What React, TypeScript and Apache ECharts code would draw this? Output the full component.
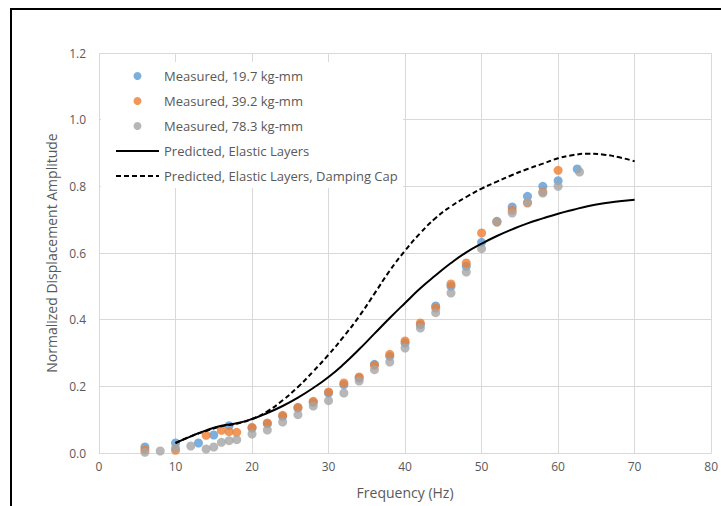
import React, { useEffect, useRef } from "react";
import * as echarts from "echarts";

const seriesNames = [
  "Measured, 19.7 kg-mm",
  "Measured, 39.2 kg-mm",
  "Measured, 78.3 kg-mm",
  "Predicted, Elastic Layers",
  "Predicted, Elastic Layers, Damping Cap",
];

const measured197: [number, number][] = [
  [6, 0.018], [10, 0.03], [13, 0.03], [15, 0.054], [17, 0.082], [20, 0.075],
  [22, 0.088], [24, 0.11], [26, 0.135], [28, 0.152], [30, 0.18], [32, 0.205],
  [34, 0.225], [36, 0.266], [38, 0.29], [40, 0.33], [42, 0.385], [44, 0.441],
  [46, 0.5], [48, 0.56], [50, 0.632], [52, 0.695], [54, 0.738], [56, 0.77],
  [58, 0.8], [60, 0.817], [62.5, 0.852],
];

const measured392: [number, number][] = [
  [6, 0.01], [10, 0.008], [14, 0.053], [16, 0.068], [17, 0.064], [18, 0.062],
  [20, 0.077], [22, 0.09], [24, 0.113], [26, 0.137], [28, 0.155], [30, 0.183],
  [32, 0.21], [34, 0.228], [36, 0.263], [38, 0.296], [40, 0.336], [42, 0.39],
  [44, 0.435], [46, 0.507], [48, 0.57], [50, 0.66], [52, 0.693], [54, 0.728],
  [56, 0.75], [58, 0.783], [60, 0.848],
];

const measured783: [number, number][] = [
  [6, 0.002], [8, 0.006], [10, 0.015], [12, 0.021], [14, 0.012], [15, 0.018],
  [16, 0.032], [17, 0.037], [18, 0.04], [20, 0.057], [22, 0.069], [24, 0.093],
  [26, 0.115], [28, 0.141], [30, 0.157], [32, 0.18], [34, 0.216], [36, 0.25],
  [38, 0.273], [40, 0.315], [42, 0.375], [44, 0.421], [46, 0.48], [48, 0.543],
  [50, 0.613], [52, 0.693], [54, 0.72], [56, 0.752], [58, 0.78], [60, 0.8],
  [62.8, 0.843],
];

const predictedElastic: [number, number][] = [
  [10, 0.03], [12, 0.05], [14, 0.068], [16, 0.082], [18, 0.089], [20, 0.102],
  [22, 0.12], [24, 0.141], [26, 0.166], [28, 0.195], [30, 0.228], [32, 0.267],
  [34, 0.311], [36, 0.358], [38, 0.405], [40, 0.45], [42, 0.494], [44, 0.533],
  [46, 0.57], [48, 0.602], [50, 0.628], [52, 0.651], [54, 0.671], [56, 0.689],
  [58, 0.704], [60, 0.718], [62, 0.73], [64, 0.741], [66, 0.749], [68, 0.755],
  [70, 0.76],
];

const predictedDamping: [number, number][] = [
  [10, 0.03], [12, 0.05], [14, 0.066], [16, 0.08], [18, 0.088], [20, 0.102],
  [22, 0.125], [24, 0.158], [26, 0.198], [28, 0.245], [30, 0.295], [32, 0.35],
  [34, 0.41], [36, 0.478], [38, 0.547], [40, 0.607], [42, 0.66], [44, 0.705],
  [46, 0.74], [48, 0.768], [50, 0.793], [52, 0.814], [54, 0.834], [56, 0.852],
  [58, 0.868], [60, 0.884], [62, 0.894], [64, 0.898], [66, 0.895], [68, 0.887],
  [70, 0.875],
];

const xTicks = { min: 0, max: 80, interval: 10 };
const yTicks = { min: 0, max: 1.2, interval: 0.2 };

const FONT = "'Open Sans', 'Noto Sans', sans-serif";
const TEXT = "#595959";
const GRID = "#d9d9d9";

export default function App() {
  const ref = useRef<HTMLDivElement>(null);
  useEffect(() => {
    if (!ref.current) return;
    const chart = echarts.init(ref.current, undefined, { renderer: "svg" });
    const scatter = (name: string, data: [number, number][], color: string) => ({
      name,
      type: "scatter",
      data,
      symbol: "circle",
      symbolSize: 9,
      itemStyle: { color },
    });
    const legendData = seriesNames.map((name, i) =>
      i < 3 ? { name } : { name, itemStyle: { opacity: 0 } }
    );
    chart.setOption({
      animation: false,
      backgroundColor: "#ffffff",
      textStyle: { fontFamily: FONT },
      grid: { left: 99, right: 7, top: 53, bottom: 53 },
      xAxis: {
        type: "value",
        min: xTicks.min,
        max: xTicks.max,
        interval: xTicks.interval,
        name: "Frequency (Hz)",
        nameLocation: "middle",
        nameGap: 32,
        nameTextStyle: { color: TEXT, fontSize: 14, fontFamily: FONT },
        axisLine: { show: true, lineStyle: { color: GRID, width: 1 } },
        axisTick: { show: false },
        axisLabel: { color: TEXT, fontSize: 12, fontFamily: FONT, margin: 7 },
        splitLine: { show: true, lineStyle: { color: GRID, width: 1 } },
      },
      yAxis: {
        type: "value",
        min: yTicks.min,
        max: yTicks.max,
        interval: yTicks.interval,
        name: "Normalized Displacement Amplitude",
        nameLocation: "middle",
        nameGap: 39,
        nameTextStyle: { color: TEXT, fontSize: 14, fontFamily: FONT },
        axisLine: { show: false },
        axisTick: { show: false },
        axisLabel: {
          color: TEXT,
          fontSize: 12,
          fontFamily: FONT,
          margin: 13,
          formatter: (v: number) => v.toFixed(1),
        },
        splitLine: { show: true, lineStyle: { color: GRID, width: 1 } },
      },
      legend: {
        orient: "vertical",
        left: 115,
        top: 69,
        padding: 0,
        itemGap: 11,
        itemWidth: 43,
        itemHeight: 8,
        data: legendData,
        selectedMode: false,
        textStyle: { color: TEXT, fontSize: 13, lineHeight: 14, fontFamily: FONT },
      },
      graphic: [
        {
          type: "rect",
          z: 3,
          silent: true,
          shape: { x: 101, y: 62, width: 302, height: 126 },
          style: { fill: "#ffffff" },
        },
        {
          type: "rect",
          z: 10,
          silent: true,
          shape: { x: 11, y: 9, width: 800, height: 600 },
          style: { fill: "none", stroke: "#000000", lineWidth: 2 },
        },
      ],
      series: [
        scatter(seriesNames[0], measured197, "#5B9BD5"),
        scatter(seriesNames[1], measured392, "#ED7D31"),
        scatter(seriesNames[2], measured783, "#A5A5A5"),
        {
          name: seriesNames[3],
          type: "line",
          data: predictedElastic,
          smooth: true,
          symbol: "none",
          showSymbol: false,
          lineStyle: { color: "#000000", width: 2, type: "solid" },
          itemStyle: { color: "rgba(0,0,0,0)" },
        },
        {
          name: seriesNames[4],
          type: "line",
          data: predictedDamping,
          smooth: true,
          symbol: "none",
          showSymbol: false,
          lineStyle: { color: "#000000", width: 2, type: [5, 3] },
          itemStyle: { color: "rgba(0,0,0,0)" },
        },
      ],
    });
    return () => chart.dispose();
  }, []);
  return (
    <div
      ref={ref}
      style={{ position: "absolute", left: 0, top: 0, width: 721, height: 506 }}
    />
  );
}
